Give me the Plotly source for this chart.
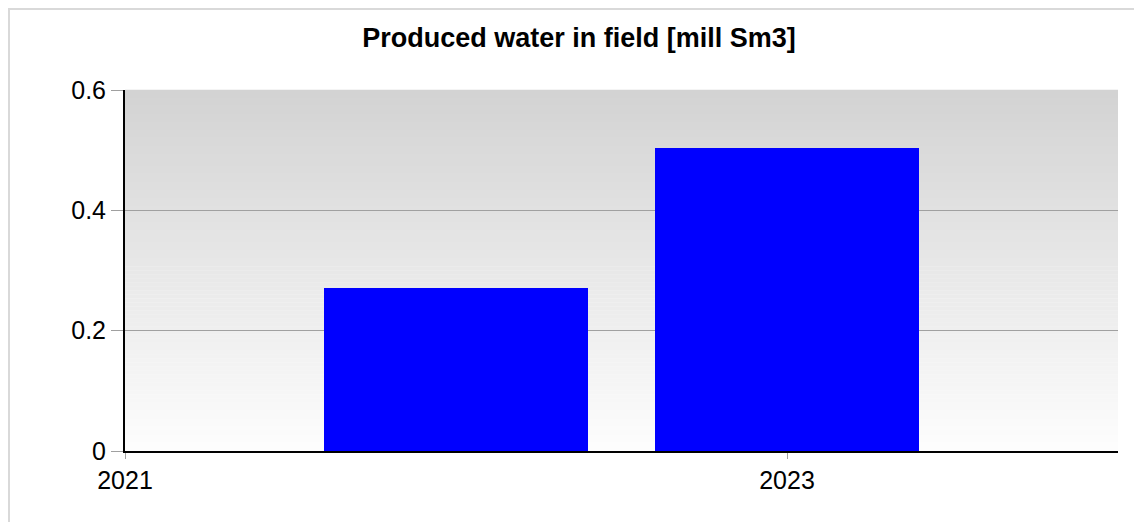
import plotly.graph_objects as go

years = [2022, 2023]
water = [0.271, 0.504]
x_ticks = [2021, 2023]
x_tick_labels = ["2021", "2023"]
y_ticks = [0, 0.2, 0.4, 0.6]
y_tick_labels = ["0", "0.2", "0.4", "0.6"]
title = "Produced water in field [mill Sm3]"

OFF = 8  # page body margin
W, H = 1134, 514
ml, mt = 125 - OFF, 90 - OFF
pw, ph = 993, 361
mr = W - ml - pw
mb = H - mt - ph

fig = go.Figure()
fig.add_trace(go.Bar(x=years, y=water, width=0.8, marker=dict(color="#0000ff", line=dict(width=0)),
                     showlegend=False, hoverinfo="x+y"))

shapes = []
n = 90
top, bot = 211, 253
for i in range(n):
    v = round(top + (bot - top) * i / (n - 1))
    c = f"rgb({v},{v},{v})"
    shapes.append(dict(type="rect", xref="x domain", yref="y domain", x0=0, x1=1,
                       y0=1 - (i + 1) / n, y1=1 - i / n + 0.001, fillcolor=c,
                       line=dict(width=0), layer="below"))

def px(xw):
    return (xw - OFF - ml) / pw
def py(yw):
    return (OFF + mt + ph - yw) / ph
bc = "#d9d9d9"
shapes.append(dict(type="rect", xref="paper", yref="paper", x0=px(8), x1=px(1142), y0=py(8), y1=py(10),
                   fillcolor=bc, line=dict(width=0), layer="below"))
shapes.append(dict(type="rect", xref="paper", yref="paper", x0=px(8), x1=px(10), y0=py(8), y1=py(522),
                   fillcolor=bc, line=dict(width=0), layer="below"))

fig.update_layout(
    width=W, height=H,
    margin=dict(l=ml, r=mr, t=mt, b=mb),
    paper_bgcolor="white", plot_bgcolor="white",
    title=dict(text="<b>" + title + "</b>", x=(579 - OFF) / W, xanchor="center",
               y=1 - (38 - OFF) / H, yanchor="middle",
               font=dict(family="Liberation Sans, Arial", size=27, color="black")),
    font=dict(family="Liberation Sans, Arial", color="black"),
    shapes=shapes,
    xaxis=dict(range=[2021, 2024], tickvals=x_ticks, ticktext=x_tick_labels, ticks="outside",
               ticklen=6, tickcolor="#a0a0a0", tickwidth=1, showline=True, linecolor="black",
               linewidth=2, showgrid=False, zeroline=False, tickfont=dict(size=25, color="black")),
    yaxis=dict(range=[0, 0.6], tickvals=y_ticks, ticktext=y_tick_labels, ticks="outside",
               ticklen=12, tickcolor="#a0a0a0", tickwidth=1, showline=True, linecolor="black",
               linewidth=2, showgrid=True, gridcolor="#a0a0a0", gridwidth=1, zeroline=False,
               tickfont=dict(size=25, color="black")),
    bargap=0,
)
fig.write_html("out.html")
